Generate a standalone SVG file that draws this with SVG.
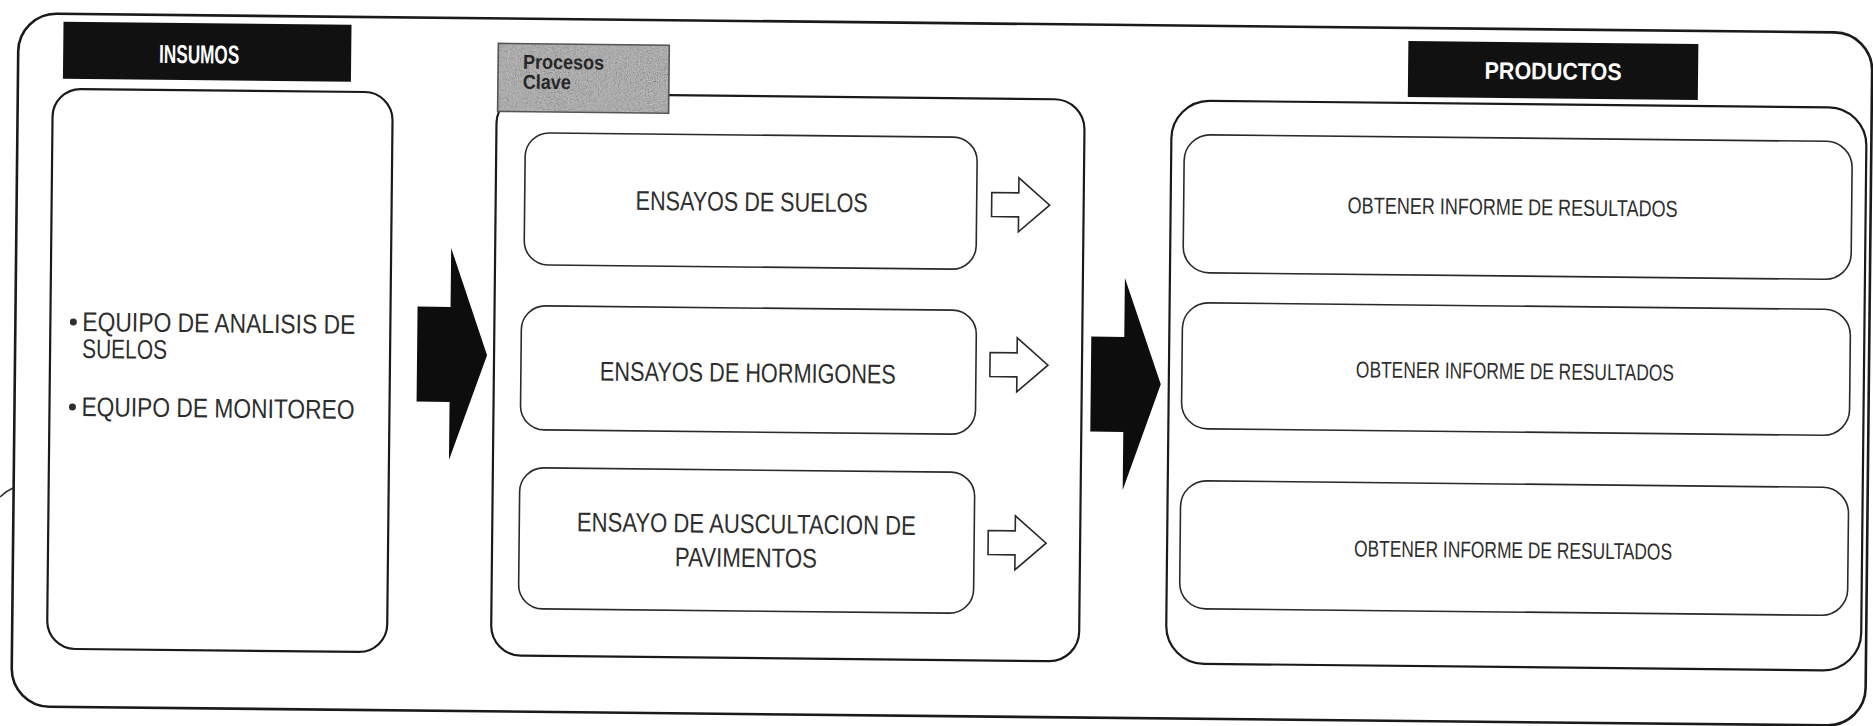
<svg xmlns="http://www.w3.org/2000/svg" width="1873" height="726" viewBox="0 0 1873 726">
<defs>
<style>
.frame{fill:none;stroke:#1a1a1a;stroke-width:2.6}
.cont{fill:#fff;stroke:#1a1a1a;stroke-width:2.2}
.box{fill:#fff;stroke:#2a2a2a;stroke-width:1.6}
.hdr{fill:#111}
.t{font-family:'Liberation Sans',Arial,sans-serif;fill:#2e2e2e}
.th{font-family:'Liberation Sans',Arial,sans-serif;font-weight:bold;fill:#fff;font-size:24px}
.th2{font-size:26px}
.tb{font-size:27px}
.tp{font-size:23px}
.tk{font-size:20px;font-weight:bold;fill:#262626}
.big{fill:#0d0d0d}
.hol{fill:#fff;stroke:#2a2a2a;stroke-width:1.6;stroke-linejoin:miter}
</style>
<filter id="grain" x="0" y="0" width="100%" height="100%">
<feTurbulence type="fractalNoise" baseFrequency="0.9" numOctaves="2" seed="7" result="n"/>
<feColorMatrix in="n" type="matrix" values="1.1 1.1 1.1 0 -1.15  1.1 1.1 1.1 0 -1.15  1.1 1.1 1.1 0 -1.15  0 0 0 0 1" result="g"/>
<feComposite in="g" in2="SourceGraphic" operator="in"/>
</filter>
</defs>
<rect width="1873" height="726" fill="#fff"/>
<path d="M0,497 Q6,491 13,488" fill="none" stroke="#333" stroke-width="1.5"/>
<g transform="rotate(0.6 936 363)">
<rect class="frame" x="15" y="23" width="1854" height="693" rx="38"/>

<g id="insumos">
<rect class="hdr" x="60" y="31" width="288" height="57"/>
<text class="th th2" transform="translate(196,71) scale(0.66,1)" x="0" y="0" text-anchor="middle">INSUMOS</text>
<rect class="cont" x="50" y="98" width="340" height="560" rx="28"/>
<circle cx="73" cy="331" r="3.5" fill="#2e2e2e"/>
<text class="t tb" x="82" y="340" textLength="273" lengthAdjust="spacingAndGlyphs">EQUIPO DE ANALISIS DE</text>
<text class="t tb" x="82" y="367" textLength="85" lengthAdjust="spacingAndGlyphs">SUELOS</text>
<circle cx="73" cy="416" r="3.5" fill="#2e2e2e"/>
<text class="t tb" x="82" y="425" textLength="273" lengthAdjust="spacingAndGlyphs">EQUIPO DE MONITOREO</text>
</g>

<g id="procesos">
<rect class="cont" x="494" y="98" width="588" height="562" rx="30"/>
<rect x="495" y="48" width="171" height="68" fill="#a2a2a2"/>
<rect x="495" y="48" width="171" height="68" fill="#000" filter="url(#grain)" opacity="0.35"/>
<rect x="495" y="48" width="171" height="68" fill="none" stroke="#555" stroke-width="1.6"/>
<text class="t tk" transform="translate(520,73) scale(0.9,1)" x="0" y="0">Procesos</text>
<text class="t tk" transform="translate(520,93) scale(0.9,1)" x="0" y="0">Clave</text>
</g>

<g id="p1">
<rect class="box" x="523" y="137" width="452" height="132" rx="24"/>
<text class="t tb" x="750" y="213" text-anchor="middle" textLength="232" lengthAdjust="spacingAndGlyphs">ENSAYOS DE SUELOS</text>
</g>
<g id="p2">
<rect class="box" x="521" y="310" width="455" height="124" rx="24"/>
<text class="t tb" x="748" y="384" text-anchor="middle" textLength="296" lengthAdjust="spacingAndGlyphs">ENSAYOS DE HORMIGONES</text>
</g>
<g id="p3">
<rect class="box" x="521" y="472" width="455" height="141" rx="24"/>
<text class="t tb" x="748" y="535" text-anchor="middle" textLength="339" lengthAdjust="spacingAndGlyphs">ENSAYO DE AUSCULTACION DE</text>
<text class="t tb" x="748" y="569" text-anchor="middle" textLength="142" lengthAdjust="spacingAndGlyphs">PAVIMENTOS</text>
</g>

<g id="productos">
<rect class="hdr" x="1405" y="36" width="290" height="56"/>
<text class="th" x="1550" y="73" text-anchor="middle" textLength="137" lengthAdjust="spacingAndGlyphs">PRODUCTOS</text>
<rect class="cont" x="1169" y="98" width="695" height="563" rx="38"/>
</g>
<g id="r1">
<rect class="box" x="1182" y="132" width="668" height="138" rx="26"/>
<text class="t tp" x="1511" y="209" text-anchor="middle" textLength="330" lengthAdjust="spacingAndGlyphs">OBTENER INFORME DE RESULTADOS</text>
</g>
<g id="r2">
<rect class="box" x="1182" y="300" width="668" height="126" rx="26"/>
<text class="t tp" x="1515" y="373" text-anchor="middle" textLength="318" lengthAdjust="spacingAndGlyphs">OBTENER INFORME DE RESULTADOS</text>
</g>
<g id="r3">
<rect class="box" x="1182" y="478" width="668" height="128" rx="26"/>
<text class="t tp" x="1515" y="552" text-anchor="middle" textLength="318" lengthAdjust="spacingAndGlyphs">OBTENER INFORME DE RESULTADOS</text>
</g>

<g id="connectors">
<polygon class="big" points="417,312 450,312 450,253 487,360 450,465 450,407 417,407"/>
<polygon class="big" points="1091,335 1124,335 1124,276 1161,382 1124,488 1124,430 1091,430"/>
<polygon class="hol" points="990,192 1017,192 1017,177 1048,204 1017,231 1017,216 990,216"/>
<polygon class="hol" points="990,352 1017,352 1017,337 1048,364 1017,391 1017,376 990,376"/>
<polygon class="hol" points="990,530 1017,530 1017,515 1048,542 1017,569 1017,554 990,554"/>
</g>
</g>
</svg>
